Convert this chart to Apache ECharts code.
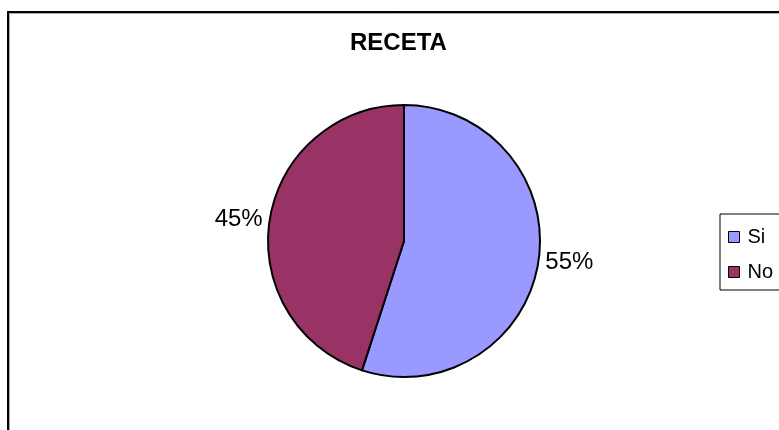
<!DOCTYPE html>
<html>
<head>
<meta charset="utf-8">
<script src="https://cdn.jsdelivr.net/npm/echarts@6/dist/echarts.min.js"></script>
<style>html,body{margin:0;padding:0;background:#fff;}#c{width:779px;height:430px;}</style>
</head>
<body>
<div id="c"></div>
<script>
const titleText = 'RECETA';
const categories = ['Si', 'No'];
const values = [55, 45];
const colors = ['#9999FF', '#993366'];

const chart = echarts.init(document.getElementById('c'), null, {renderer: 'canvas'});
const font = '"Liberation Sans", Arial, sans-serif';
chart.setOption({
  animation: false,
  backgroundColor: '#fff',
  graphic: [
    {type: 'rect', shape: {x: 8, y: 12, width: 900, height: 600}, style: {fill: 'none', stroke: '#000', lineWidth: 2}, z: 0},
    {type: 'rect', shape: {x: 9.5, y: 13.5, width: 900, height: 600}, style: {fill: 'none', stroke: '#aaa', lineWidth: 1}, z: 0}
  ],
  title: {
    text: titleText,
    left: 350, top: 31, padding: 0,
    textStyle: {fontFamily: font, fontWeight: 'bold', fontSize: 24, color: '#000'}
  },
  legend: {
    orient: 'vertical',
    left: 720, top: 214,
    padding: [13, 10, 8, 8],
    borderColor: '#000', borderWidth: 1,
    itemWidth: 11, itemHeight: 11, itemGap: 15,
    icon: 'rect',
    itemStyle: {borderColor: '#000', borderWidth: 1},
    textStyle: {fontFamily: font, fontSize: 20, color: '#000', padding: [0, 0, 0, 3]},
    data: categories
  },
  series: [{
    type: 'pie',
    center: [404, 241],
    radius: 136,
    startAngle: 90,
    clockwise: true,
    silent: true,
    itemStyle: {borderColor: '#000', borderWidth: 2},
    label: {
      show: true, position: 'outside',
      formatter: function (p) { return p.value + '%'; },
      fontFamily: font, fontSize: 24, color: '#000'
    },
    labelLine: {show: false, length: 2, length2: 0},
    data: categories.map((c, i) => ({name: c, value: values[i], itemStyle: {color: colors[i]}}))
  }]
});
</script>
</body>
</html>
